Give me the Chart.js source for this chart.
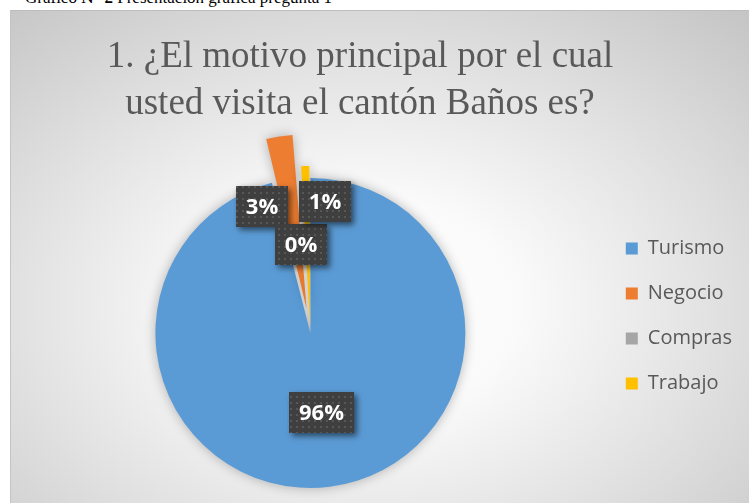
<!DOCTYPE html>
<html lang="es">
<head>
<meta charset="utf-8">
<script src="https://cdn.jsdelivr.net/npm/chart.js@4.4.1/dist/chart.umd.min.js"></script>
<style>
  html, body { margin: 0; padding: 0; background: #fff; overflow: hidden; width: 749px; height: 503px; }
  #caption {
    position: absolute; left: 25px; top: -12px; line-height: 20px;
    font-family: "Liberation Serif", "Times New Roman", serif; font-size: 17px; color: #000;
    white-space: nowrap;
  }
  #frame {
    position: absolute; left: 10px; top: 10px; width: 739px; height: 493px;
    border-top: 1px solid #bdbdbd; border-left: 1px solid #c4c4c4; box-sizing: border-box;
    background: radial-gradient(ellipse 75% 80% at 48% 60%, #ffffff 0%, #fafafa 28%, #e2e2e2 62%, #c6c6c6 100%);
  }
  #chart { position: absolute; left: 0; top: 10px; }
</style>
</head>
<body>
<div id="caption">Gráfico <b>N° 2</b> Presentación gráfica pregunta 1</div>
<div id="frame"></div>
<canvas id="chart" width="749" height="493"></canvas>
<script>
// valores (%)
const categories = ["Turismo", "Negocio", "Compras", "Trabajo"];
const percentages = [96, 3, 0, 1];
const titleLines = ["1. ¿El motivo principal por el cual", "usted visita el cantón Baños es?"];

const sliceColors = ["#5B9BD5", "#ED7D31", "#A5A5A5", "#FFC000"];
const explode = [0, 97, 0, 25];

// sombra suave alrededor de la torta
const pieShadow = {
    id: "pieShadow",
    beforeDatasetsDraw(chart) {
        const ctx = chart.ctx;
        ctx.save();
        ctx.shadowColor = "rgba(0,0,0,0.28)";
        ctx.shadowBlur = 12;
    },
    afterDatasetsDraw(chart) {
        chart.ctx.restore();
    },
};

// etiquetas con caja oscura punteada
const boxLabels = {
    id: "boxLabels",
    afterDatasetsDraw(chart, args, opts) {
        const ctx = chart.ctx;
        const meta = chart.getDatasetMeta(0);
        const total = percentages.reduce((a, b) => a + b, 0);

        const tile = document.createElement("canvas");
        tile.width = 6;
        tile.height = 6;
        const t = tile.getContext("2d");
        t.fillStyle = "#3f3f3f";
        t.fillRect(0, 0, 6, 6);
        t.fillStyle = "#575757";
        t.fillRect(2, 2, 2, 2);
        const pattern = ctx.createPattern(tile, "repeat");

        ctx.save();
        ctx.font = 'bold 22px "Open Sans", sans-serif';
        ctx.textAlign = "center";
        ctx.textBaseline = "middle";
        meta.data.forEach(function (arc, i) {
            const p = arc.getProps(["x", "y", "startAngle", "endAngle", "outerRadius"], true);
            const a = (p.startAngle + p.endAngle) / 2 + (opts.angleShift[i] * Math.PI) / 180;
            const r = p.outerRadius * opts.radius[i];
            const cx = p.x + Math.cos(a) * r;
            const cy = p.y + Math.sin(a) * r;
            const text = Math.round((percentages[i] / total) * 100) + "%";
            const w = Math.round(ctx.measureText(text).width + 20);
            const h = 41;
            const bx = Math.round(cx - w / 2);
            const by = Math.round(cy - h / 2);

            ctx.save();
            ctx.shadowColor = "rgba(0,0,0,0.55)";
            ctx.shadowBlur = 6;
            ctx.shadowOffsetX = 3;
            ctx.shadowOffsetY = 3;
            ctx.fillStyle = "#3f3f3f";
            ctx.fillRect(bx, by, w, h);
            ctx.restore();
            ctx.fillStyle = pattern;
            ctx.fillRect(bx, by, w, h);
            ctx.fillStyle = "#ffffff";
            ctx.fillText(text, bx + w / 2, by + h / 2 + 1);
        });
        ctx.restore();
    },
};

// ajuste fino de titulo y leyenda
const nudge = {
    id: "nudge",
    afterLayout(chart) {
        chart.titleBlock.left -= 21;
        chart.titleBlock.right -= 21;
        chart.legend.top -= 17;
        chart.legend.bottom -= 17;
    },
};

new Chart(document.getElementById("chart"), {
    type: "pie",
    data: {
        labels: categories,
        datasets: [
            {
                data: percentages,
                backgroundColor: sliceColors,
                borderWidth: 0,
                borderColor: "rgba(0,0,0,0)",
                offset: explode,
                radius: 155,
                clip: false,
            },
        ],
    },
    options: {
        responsive: false,
        animation: false,
        events: [],
        layout: {
            padding: { left: 20, right: 7, top: 0, bottom: 0 },
        },
        plugins: {
            title: {
                display: true,
                text: titleLines,
                color: "#595959",
                font: {
                    family: '"Liberation Serif", "Times New Roman", serif',
                    size: 37,
                    weight: "normal",
                    lineHeight: 47 / 37,
                },
                padding: { top: 24, bottom: 35 },
            },
            legend: {
                position: "right",
                fullSize: false,
                labels: {
                    color: "#595959",
                    boxWidth: 12,
                    boxHeight: 12,
                    padding: 25,
                    font: { family: '"Open Sans", sans-serif', size: 20 },
                },
            },
            tooltip: { enabled: false },
            boxLabels: {
                radius: [0.515, 0.87, 0.571, 0.851],
                angleShift: [-0.7, -11.85, -2.24, 8.33],
            },
        },
    },
    plugins: [pieShadow, boxLabels, nudge],
});
</script>
</body>
</html>
